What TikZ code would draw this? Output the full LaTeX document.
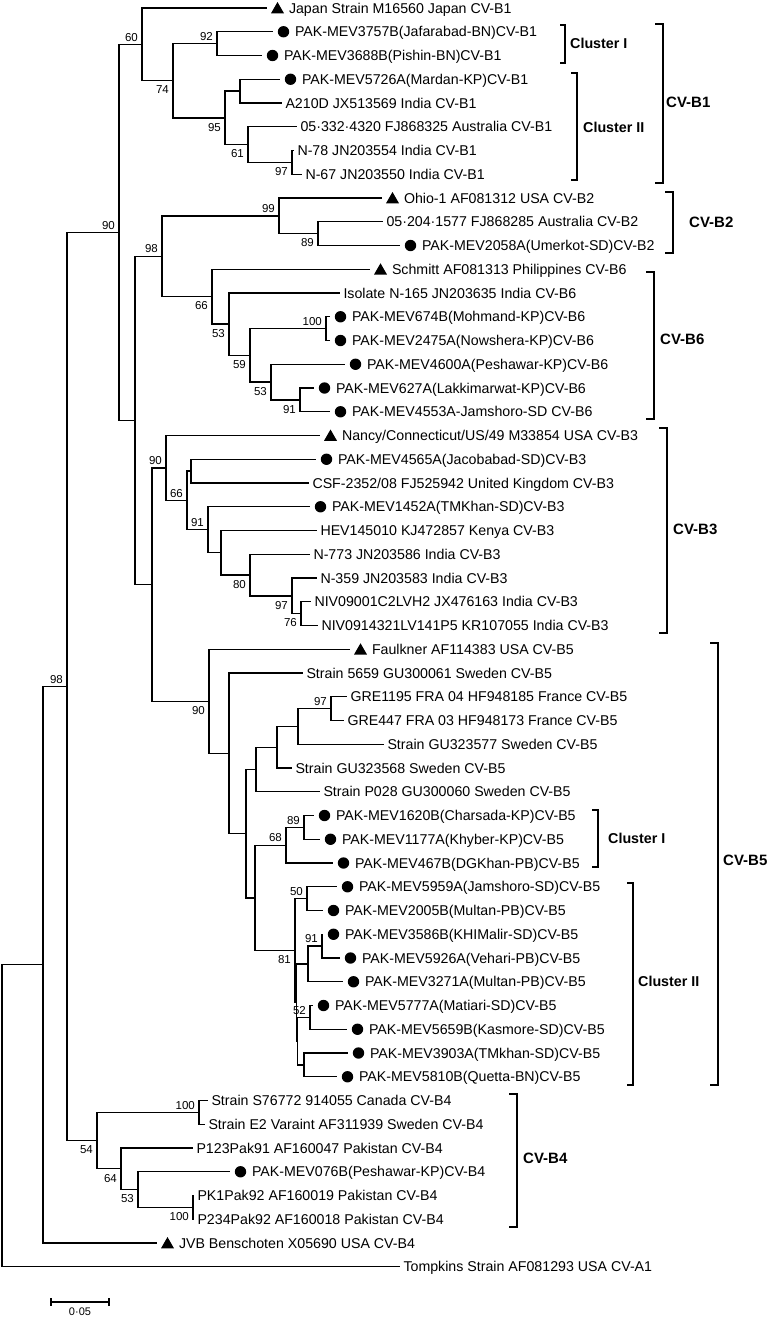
\documentclass[tikz,border=0pt]{standalone}
\usepackage{fontspec}
\setmainfont{Liberation Sans}
\usepackage{tikz}

\begin{document}
\begin{tikzpicture}[x=1pt, y=-1pt,
  branch/.style={line width=1.4pt},
  leaf/.style={anchor=west, inner xsep=3.5pt, inner ysep=2pt, outer sep=0pt, text height=10pt, text depth=0pt, font=\fontsize{14.2}{16}\selectfont},
  dotleaf/.style={leaf, inner xsep=22pt, path picture={\fill ([xshift=10.5pt]path picture bounding box.west) circle (5.7pt);}},
  trileaf/.style={leaf, inner xsep=22pt, path picture={\fill ([xshift=4pt,yshift=-5.3pt]path picture bounding box.west) -- ([xshift=17pt,yshift=-5.3pt]path picture bounding box.west) -- ([xshift=10.5pt,yshift=6pt]path picture bounding box.west) -- cycle;}},
  boot/.style={inner sep=0pt, font=\fontsize{11.5}{12}\selectfont},
  ba/.style={boot, anchor=south east, xshift=-4pt, yshift=3pt},
  bb/.style={boot, anchor=north east, xshift=-4pt, yshift=-5pt},
  brk/.style={line width=1.4pt},
  clus/.style={anchor=west, inner sep=0pt, font=\bfseries\fontsize{14.3}{16}\selectfont},
  geno/.style={anchor=west, inner sep=0pt, font=\bfseries\fontsize{15}{17}\selectfont},
  barlab/.style={inner sep=0pt, font=\fontsize{11}{12}\selectfont}]
\useasboundingbox (0,0) rectangle (771,1317);

\node[trileaf] (japan) at (267,8) {Japan Strain M16560 Japan CV-B1};
\node[dotleaf] (jafar) at (273,31.75) {PAK-MEV3757B(Jafarabad-BN)CV-B1};
\node[dotleaf] (pishin) at (262,55.5) {PAK-MEV3688B(Pishin-BN)CV-B1};
\node[dotleaf] (mardan) at (280,79.25) {PAK-MEV5726A(Mardan-KP)CV-B1};
\node[leaf] (a210d) at (282,103) {A210D JX513569 India CV-B1};
\node[leaf] (ausa) at (297,126.75) {05·332·4320 FJ868325 Australia CV-B1};
\node[leaf] (n78) at (294,150.5) {N-78 JN203554 India CV-B1};
\node[leaf] (n67) at (302,174.25) {N-67 JN203550 India CV-B1};
\node[trileaf] (ohio) at (382,198) {Ohio-1 AF081312 USA CV-B2};
\node[leaf] (ausb) at (383,221.75) {05·204·1577 FJ868285 Australia CV-B2};
\node[dotleaf] (umerkot) at (400,245.5) {PAK-MEV2058A(Umerkot-SD)CV-B2};
\node[trileaf] (schmitt) at (370,269.25) {Schmitt AF081313 Philippines CV-B6};
\node[leaf] (n165) at (340,293) {Isolate N-165 JN203635 India CV-B6};
\node[dotleaf] (mohmand) at (330,316.75) {PAK-MEV674B(Mohmand-KP)CV-B6};
\node[dotleaf] (nowshera) at (330,340.5) {PAK-MEV2475A(Nowshera-KP)CV-B6};
\node[dotleaf] (peshawara) at (345,364.25) {PAK-MEV4600A(Peshawar-KP)CV-B6};
\node[dotleaf] (lakki) at (314,388) {PAK-MEV627A(Lakkimarwat-KP)CV-B6};
\node[dotleaf] (jamshoroa) at (330,411.75) {PAK-MEV4553A-Jamshoro-SD CV-B6};
\node[trileaf] (nancy) at (320,435.5) {Nancy/Connecticut/US/49 M33854 USA CV-B3};
\node[dotleaf] (jacob) at (316,459.25) {PAK-MEV4565A(Jacobabad-SD)CV-B3};
\node[leaf] (csf) at (309,483) {CSF-2352/08 FJ525942 United Kingdom CV-B3};
\node[dotleaf] (tmkhana) at (310,506.75) {PAK-MEV1452A(TMKhan-SD)CV-B3};
\node[leaf] (hev) at (317,530.5) {HEV145010 KJ472857 Kenya CV-B3};
\node[leaf] (n773) at (310,554.25) {N-773 JN203586 India CV-B3};
\node[leaf] (n359) at (317,578) {N-359 JN203583 India CV-B3};
\node[leaf] (niva) at (311,601.75) {NIV09001C2LVH2 JX476163 India CV-B3};
\node[leaf] (nivb) at (318,625.5) {NIV0914321LV141P5 KR107055 India CV-B3};
\node[trileaf] (faulkner) at (350,649.25) {Faulkner AF114383 USA CV-B5};
\node[leaf] (s5659) at (303,673) {Strain 5659 GU300061 Sweden CV-B5};
\node[leaf] (gre1195) at (347,696.75) {GRE1195 FRA 04 HF948185 France CV-B5};
\node[leaf] (gre447) at (344,720.5) {GRE447 FRA 03 HF948173 France CV-B5};
\node[leaf] (gu577) at (384,744.25) {Strain GU323577 Sweden CV-B5};
\node[leaf] (gu568) at (292,768) {Strain GU323568 Sweden CV-B5};
\node[leaf] (p028) at (320,791.75) {Strain P028 GU300060 Sweden CV-B5};
\node[dotleaf] (charsada) at (314,815.5) {PAK-MEV1620B(Charsada-KP)CV-B5};
\node[dotleaf] (khyber) at (320,839.25) {PAK-MEV1177A(Khyber-KP)CV-B5};
\node[dotleaf] (dgkhan) at (333,863) {PAK-MEV467B(DGKhan-PB)CV-B5};
\node[dotleaf] (jamshorob) at (337,886.75) {PAK-MEV5959A(Jamshoro-SD)CV-B5};
\node[dotleaf] (multana) at (323,910.5) {PAK-MEV2005B(Multan-PB)CV-B5};
\node[dotleaf] (malir) at (323,934.25) {PAK-MEV3586B(KHIMalir-SD)CV-B5};
\node[dotleaf] (vehari) at (340,958) {PAK-MEV5926A(Vehari-PB)CV-B5};
\node[dotleaf] (multanb) at (343,981.75) {PAK-MEV3271A(Multan-PB)CV-B5};
\node[dotleaf] (matiari) at (313,1005.5) {PAK-MEV5777A(Matiari-SD)CV-B5};
\node[dotleaf] (kasmore) at (347,1029.25) {PAK-MEV5659B(Kasmore-SD)CV-B5};
\node[dotleaf] (tmkhanb) at (348,1053) {PAK-MEV3903A(TMkhan-SD)CV-B5};
\node[dotleaf] (quetta) at (337,1076.75) {PAK-MEV5810B(Quetta-BN)CV-B5};
\node[leaf] (canada) at (208,1100.5) {Strain S76772 914055 Canada CV-B4};
\node[leaf] (e2) at (205,1124.25) {Strain E2 Varaint AF311939 Sweden CV-B4};
\node[leaf] (p123) at (193,1148) {P123Pak91 AF160047 Pakistan CV-B4};
\node[dotleaf] (peshawarb) at (230,1171.75) {PAK-MEV076B(Peshawar-KP)CV-B4};
\node[leaf] (pk1) at (194,1195.5) {PK1Pak92 AF160019 Pakistan CV-B4};
\node[leaf] (p234) at (194,1219.25) {P234Pak92 AF160018 Pakistan CV-B4};
\node[trileaf] (jvb) at (157,1243) {JVB Benschoten X05690 USA CV-B4};
\node[leaf] (tompkins) at (400,1266.75) {Tompkins Strain AF081293 USA CV-A1};

\coordinate (root) at (2,1115.75);
\coordinate (na) at (43,964.75);
\coordinate (n98) at (67,686.5);
\coordinate (n90) at (119,232.41);
\coordinate (n60) at (142,44.37);
\coordinate (n74) at (173,80.73);
\coordinate (n92) at (217,43.63);
\coordinate (n95) at (225,117.84);
\coordinate (nma) at (240,91.13);
\coordinate (n61) at (248,144.56);
\coordinate (n97a) at (292,162.38);
\coordinate (nb) at (135,420.45);
\coordinate (n98b) at (162,256.26);
\coordinate (n99) at (279,215.81);
\coordinate (n89a) at (318,233.63);
\coordinate (n66a) at (212,296.71);
\coordinate (n53a) at (229,324.17);
\coordinate (n59) at (250,355.34);
\coordinate (n100a) at (326,328.63);
\coordinate (n53b) at (271,382.06);
\coordinate (n91a) at (300,399.88);
\coordinate (nc) at (152,584.63);
\coordinate (n90b) at (166,467.97);
\coordinate (njc) at (191,471.13);
\coordinate (n66b) at (187,500.44);
\coordinate (n91b) at (208,529.76);
\coordinate (nhe) at (221,552.77);
\coordinate (n80) at (250,575.03);
\coordinate (n97b) at (292,595.81);
\coordinate (n76) at (301,613.63);
\coordinate (n90c) at (209,701.3);
\coordinate (nst) at (229,753.34);
\coordinate (nmid) at (246,833.68);
\coordinate (np28) at (256,769.48);
\coordinate (ngu8) at (277,747.22);
\coordinate (ngu7) at (298,726.44);
\coordinate (n97c) at (331,708.63);
\coordinate (ncl) at (255,897.89);
\coordinate (n68) at (286,845.19);
\coordinate (n89b) at (304,827.38);
\coordinate (n81) at (295,950.58);
\coordinate (n50) at (307,898.63);
\coordinate (nw) at (296.5,1002.53);
\coordinate (nx) at (308,963.94);
\coordinate (n91c) at (322,946.13);
\coordinate (nv) at (297.5,1041.13);
\coordinate (n52) at (310,1017.38);
\coordinate (nz) at (304,1064.88);
\coordinate (n54) at (97,1140.58);
\coordinate (n100b) at (199,1112.38);
\coordinate (n64) at (121,1168.78);
\coordinate (n53c) at (138,1189.56);
\coordinate (n100c) at (193,1207.38);

\draw[branch] (root) |- (na) (root) |- (tompkins.west);
\draw[branch] (na) |- (n98) (na) |- (jvb.west);
\draw[branch] (n98) |- (n90) (n98) |- (n54);
\draw[branch] (n90) |- (n60) (n90) |- (nb);
\draw[branch] (n60) |- (japan.west) (n60) |- (n74);
\draw[branch] (n74) |- (n92) (n74) |- (n95);
\draw[branch] (n92) |- (jafar.west) (n92) |- (pishin.west);
\draw[branch] (n95) |- (nma) (n95) |- (n61);
\draw[branch] (nma) |- (mardan.west) (nma) |- (a210d.west);
\draw[branch] (n61) |- (ausa.west) (n61) |- (n97a);
\draw[branch] (n97a) |- (n78.west) (n97a) |- (n67.west);
\draw[branch] (nb) |- (n98b) (nb) |- (nc);
\draw[branch] (n98b) |- (n99) (n98b) |- (n66a);
\draw[branch] (n99) |- (ohio.west) (n99) |- (n89a);
\draw[branch] (n89a) |- (ausb.west) (n89a) |- (umerkot.west);
\draw[branch] (n66a) |- (schmitt.west) (n66a) |- (n53a);
\draw[branch] (n53a) |- (n165.west) (n53a) |- (n59);
\draw[branch] (n59) |- (n100a) (n59) |- (n53b);
\draw[branch] (n100a) |- (mohmand.west) (n100a) |- (nowshera.west);
\draw[branch] (n53b) |- (peshawara.west) (n53b) |- (n91a);
\draw[branch] (n91a) |- (lakki.west) (n91a) |- (jamshoroa.west);
\draw[branch] (nc) |- (n90b) (nc) |- (n90c);
\draw[branch] (n90b) |- (nancy.west) (n90b) |- (n66b);
\draw[branch] (n66b) |- (njc) (n66b) |- (n91b);
\draw[branch] (njc) |- (jacob.west) (njc) |- (csf.west);
\draw[branch] (n91b) |- (tmkhana.west) (n91b) |- (nhe);
\draw[branch] (nhe) |- (hev.west) (nhe) |- (n80);
\draw[branch] (n80) |- (n773.west) (n80) |- (n97b);
\draw[branch] (n97b) |- (n359.west) (n97b) |- (n76);
\draw[branch] (n76) |- (niva.west) (n76) |- (nivb.west);
\draw[branch] (n90c) |- (faulkner.west) (n90c) |- (nst);
\draw[branch] (nst) |- (s5659.west) (nst) |- (nmid);
\draw[branch] (nmid) |- (np28) (nmid) |- (ncl);
\draw[branch] (np28) |- (ngu8) (np28) |- (p028.west);
\draw[branch] (ngu8) |- (ngu7) (ngu8) |- (gu568.west);
\draw[branch] (ngu7) |- (n97c) (ngu7) |- (gu577.west);
\draw[branch] (n97c) |- (gre1195.west) (n97c) |- (gre447.west);
\draw[branch] (ncl) |- (n68) (ncl) |- (n81);
\draw[branch] (n68) |- (n89b) (n68) |- (dgkhan.west);
\draw[branch] (n89b) |- (charsada.west) (n89b) |- (khyber.west);
\draw[branch] (n81) |- (n50) (n81) |- (nw);
\draw[branch] (n50) |- (jamshorob.west) (n50) |- (multana.west);
\draw[branch] (nw) |- (nx) (nw) |- (nv);
\draw[branch] (nx) |- (n91c) (nx) |- (multanb.west);
\draw[branch] (n91c) |- (malir.west) (n91c) |- (vehari.west);
\draw[branch] (nv) |- (n52) (nv) |- (nz);
\draw[branch] (n52) |- (matiari.west) (n52) |- (kasmore.west);
\draw[branch] (nz) |- (tmkhanb.west) (nz) |- (quetta.west);
\draw[branch] (n54) |- (n100b) (n54) |- (n64);
\draw[branch] (n100b) |- (canada.west) (n100b) |- (e2.west);
\draw[branch] (n64) |- (p123.west) (n64) |- (n53c);
\draw[branch] (n53c) |- (peshawarb.west) (n53c) |- (n100c);
\draw[branch] (n100c) |- (pk1.west) (n100c) |- (p234.west);

\node[ba] (b60) at (n60) {60};
\node[ba] (b92) at (n92) {92};
\node[bb] (b74) at (n74) {74};
\node[bb] (b95) at (n95) {95};
\node[bb] (b61) at (n61) {61};
\node[bb] (b97a) at (n97a) {97};
\node[ba] (b90) at (n90) {90};
\node[ba] (b98b) at (n98b) {98};
\node[ba] (b99) at (n99) {99};
\node[bb] (b89a) at (n89a) {89};
\node[bb] (b66a) at (n66a) {66};
\node[bb] (b53a) at (n53a) {53};
\node[ba] (b100a) at (n100a) {100};
\node[bb] (b59) at (n59) {59};
\node[bb] (b53b) at (n53b) {53};
\node[bb] (b91a) at (n91a) {91};
\node[ba] (b90b) at (n90b) {90};
\node[ba] (b66b) at (n66b) {66};
\node[ba] (b91b) at (n91b) {91};
\node[bb] (b80) at (n80) {80};
\node[bb] (b97b) at (n97b) {97};
\node[bb] (b76) at (n76) {76};
\node[bb] (b90c) at (n90c) {90};
\node[ba] (b97c) at (n97c) {97};
\node[ba] (b89b) at (n89b) {89};
\node[ba] (b68) at (n68) {68};
\node[ba] (b50) at (n50) {50};
\node[ba] (b91c) at (n91c) {91};
\node[bb] (b81) at (n81) {81};
\node[ba] (b52) at (n52) {52};
\node[ba] (b98) at (n98) {98};
\node[bb] (b54) at (n54) {54};
\node[ba] (b100b) at (n100b) {100};
\node[bb] (b64) at (n64) {64};
\node[bb] (b53c) at (n53c) {53};
\node[bb] (b100c) at (n100c) {100};

\draw[brk] (560,25) -- (565,25) -- (565,63) -- (560,63);
\draw[brk] (571,73) -- (577,73) -- (577,180) -- (571,180);
\draw[brk] (655,24) -- (663,24) -- (663,183) -- (655,183);
\draw[brk] (665,192) -- (673,192) -- (673,253) -- (665,253);
\draw[brk] (646,272) -- (654,272) -- (654,419) -- (646,419);
\draw[brk] (659,428) -- (667,428) -- (667,633) -- (659,633);
\draw[brk] (710,643) -- (718,643) -- (718,1085) -- (710,1085);
\draw[brk] (592,810) -- (598,810) -- (598,867) -- (592,867);
\draw[brk] (627,883) -- (633,883) -- (633,1085) -- (627,1085);
\draw[brk] (509,1094) -- (517,1094) -- (517,1227) -- (509,1227);
\node[clus] (clia) at (570,43) {Cluster I};
\node[clus] (cliia) at (583,127) {Cluster II};
\node[geno] (cvb1) at (666,102) {CV-B1};
\node[geno] (cvb2) at (689,222) {CV-B2};
\node[geno] (cvb6) at (660,339) {CV-B6};
\node[geno] (cvb3) at (673,529) {CV-B3};
\node[geno] (cvb5) at (723,860) {CV-B5};
\node[clus] (clib) at (608,838) {Cluster I};
\node[clus] (cliib) at (638,981) {Cluster II};
\node[geno] (cvb4) at (523,1158) {CV-B4};

\draw[branch] (51,1298) -- (51,1306) (51,1302) -- (109,1302) (109,1298) -- (109,1306);
\node[barlab] (bar) at (80,1312) {0·05};
\end{tikzpicture}
\end{document}
